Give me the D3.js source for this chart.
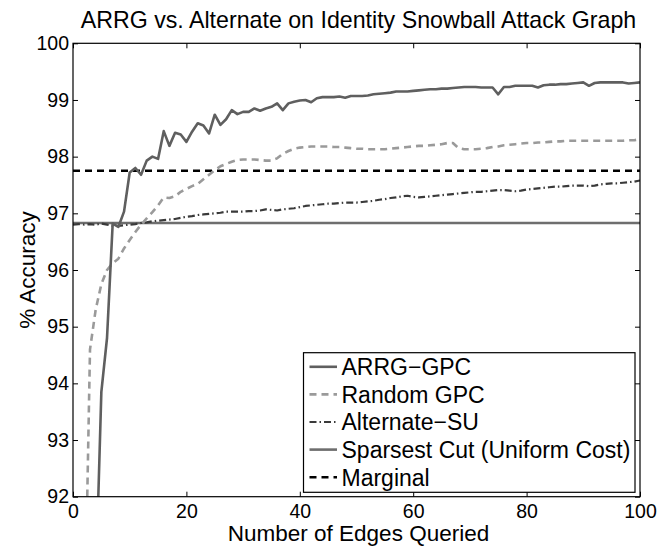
<!DOCTYPE html>
<html>
<head>
<meta charset="utf-8">
<script src="https://cdn.jsdelivr.net/npm/d3@7"></script>
<style>
  html, body { margin: 0; padding: 0; background: #fff; }
  svg { display: block; font-family: "Liberation Sans", Arial, Helvetica, sans-serif; }
</style>
</head>
<body>
<svg id="chart" width="667" height="546"></svg>
<script>
// ---------- data ----------
const chartTitle = "ARRG vs. Alternate on Identity Snowball Attack Graph";
const xLabel = "Number of Edges Queried";
const yLabel = "% Accuracy";
const xTicks = [0, 20, 40, 60, 80, 100];
const yTicks = [92, 93, 94, 95, 96, 97, 98, 99, 100];
const seriesNames = ["ARRG\u2212GPC", "Random GPC", "Alternate\u2212SU", "Sparsest Cut (Uniform Cost)", "Marginal"];

// ARRG-GPC, edges queried 4..100
const arrgStart = 4;
const arrgValues = [
  90.4, 93.85, 94.8, 96.82, 96.76, 97.03, 97.72, 97.80, 97.68, 97.93,
  98.00, 97.96, 98.45, 98.19, 98.42, 98.39, 98.26, 98.44, 98.59, 98.55,
  98.41, 98.74, 98.56, 98.66, 98.82, 98.75, 98.79, 98.79, 98.85, 98.81,
  98.85, 98.88, 98.94, 98.82, 98.94, 98.97, 98.99, 99.00, 98.96, 99.03,
  99.05, 99.05, 99.05, 99.06, 99.04, 99.07, 99.07, 99.07, 99.08, 99.10,
  99.11, 99.12, 99.13, 99.15, 99.15, 99.15, 99.16, 99.17, 99.18, 99.19,
  99.19, 99.20, 99.20, 99.21, 99.22, 99.23, 99.23, 99.23, 99.22, 99.22,
  99.22, 99.10, 99.23, 99.23, 99.25, 99.25, 99.25, 99.25, 99.22, 99.26,
  99.27, 99.27, 99.28, 99.28, 99.29, 99.30, 99.31, 99.25, 99.30, 99.31,
  99.31, 99.31, 99.31, 99.31, 99.29, 99.30, 99.31
];

// Random GPC, edges queried 2..100
const randomStart = 2;
const randomValues = [
  89.25, 94.6, 95.3, 95.75, 96.0, 96.12, 96.2, 96.38, 96.53, 96.67,
  96.8, 96.91, 97.02, 97.14, 97.28, 97.27, 97.3, 97.38, 97.43, 97.48,
  97.52, 97.6, 97.68, 97.76, 97.83, 97.87, 97.91, 97.94, 97.95, 97.95,
  97.95, 97.94, 97.93, 97.93, 97.97, 98.05, 98.1, 98.14, 98.16, 98.17,
  98.18, 98.18, 98.18, 98.18, 98.17, 98.17, 98.16, 98.15, 98.14, 98.14,
  98.13, 98.13, 98.13, 98.13, 98.14, 98.15, 98.16, 98.17, 98.18, 98.19,
  98.19, 98.2, 98.21, 98.22, 98.24, 98.24, 98.15, 98.13, 98.13, 98.13,
  98.14, 98.15, 98.17, 98.18, 98.2, 98.21, 98.22, 98.23, 98.24, 98.24,
  98.25, 98.25, 98.26, 98.27, 98.27, 98.28, 98.28, 98.28, 98.28, 98.28,
  98.28, 98.28, 98.28, 98.28, 98.28, 98.28, 98.29, 98.29, 98.31
];

// Alternate-SU, edges queried 0..100
const altStart = 0;
const altValues = [
  96.8, 96.81, 96.8, 96.81, 96.8, 96.82, 96.8, 96.78, 96.78, 96.79,
  96.8, 96.81, 96.83, 96.84, 96.86, 96.87, 96.88, 96.89, 96.9, 96.92,
  96.94, 96.95, 96.97, 96.98, 96.99, 97.0, 97.01, 97.03, 97.03, 97.03,
  97.03, 97.04, 97.04, 97.05, 97.07, 97.06, 97.05, 97.07, 97.08, 97.09,
  97.11, 97.13, 97.14, 97.15, 97.16, 97.17, 97.17, 97.18, 97.19, 97.19,
  97.19, 97.2, 97.21, 97.22, 97.24, 97.25, 97.27, 97.28, 97.3, 97.31,
  97.29, 97.28, 97.29, 97.3, 97.31, 97.32, 97.33, 97.34, 97.35, 97.36,
  97.37, 97.38, 97.38, 97.39, 97.4, 97.41, 97.41, 97.4, 97.39, 97.4,
  97.42, 97.43, 97.44, 97.45, 97.46, 97.47, 97.47, 97.48, 97.49, 97.49,
  97.49, 97.48, 97.49, 97.51, 97.52, 97.53, 97.53, 97.54, 97.55, 97.56,
  97.58
];

// constant baselines
const sparsestX = [0, 100];
const sparsestValues = [96.83, 96.83];
const marginalX = [0, 100];
const marginalValues = [97.75, 97.75];

// ---------- layout ----------
const svg = d3.select("#chart");
const L = 73, R = 640, T = 43.3, B = 496.7;
const x = d3.scaleLinear().domain([0, 100]).range([L, R]);
const y = d3.scaleLinear().domain([92, 100]).range([B, T]);

const toPts = (start, vals) => vals.map((v, i) => [start + i, v]);
const zipPts = (xs, vals) => vals.map((v, i) => [xs[i], v]);

const series = [
  { name: seriesNames[0], pts: toPts(arrgStart, arrgValues), color: "#5f5f5f", width: 2.6, dash: null },
  { name: seriesNames[1], pts: toPts(randomStart, randomValues), color: "#9a9a9a", width: 2.6, dash: "7,5" },
  { name: seriesNames[2], pts: toPts(altStart, altValues), color: "#3a3a3a", width: 2.2, dash: "7,3,1.5,3" },
  { name: seriesNames[3], pts: zipPts(sparsestX, sparsestValues), color: "#6e6e6e", width: 2.6, dash: null },
  { name: seriesNames[4], pts: zipPts(marginalX, marginalValues), color: "#000000", width: 2.6, dash: "7,5" }
];

svg.append("defs").append("clipPath").attr("id", "plotclip")
  .append("rect").attr("x", L).attr("y", T).attr("width", R - L).attr("height", B - T);

// axes with inward ticks
const tickLen = 5;
const fontTick = 19.5;
const xAxisB = d3.axisBottom(x).tickValues(xTicks).tickSizeInner(-tickLen).tickSizeOuter(0).tickPadding(7);
const xAxisT = d3.axisTop(x).tickValues(xTicks).tickSizeInner(-tickLen).tickSizeOuter(0).tickFormat("");
const yAxisL = d3.axisLeft(y).tickValues(yTicks).tickSizeInner(-tickLen).tickSizeOuter(0).tickPadding(4);
const yAxisR = d3.axisRight(y).tickValues(yTicks).tickSizeInner(-tickLen).tickSizeOuter(0).tickFormat("");

function styleAxis(g) {
  g.select(".domain").remove();
  g.selectAll("line").attr("stroke", "#000").attr("stroke-width", 1);
  g.selectAll("text").attr("fill", "#000").attr("font-size", fontTick)
    .attr("font-family", "'Liberation Sans', Arial, sans-serif");
}

svg.append("g").attr("transform", `translate(0,${B})`).call(xAxisB).call(styleAxis);
svg.append("g").attr("transform", `translate(0,${T})`).call(xAxisT).call(styleAxis);
svg.append("g").attr("transform", `translate(${L},0)`).call(yAxisL).call(styleAxis);
svg.append("g").attr("transform", `translate(${R},0)`).call(yAxisR).call(styleAxis);

// lines
const line = d3.line().x(d => x(d[0])).y(d => y(d[1]));
const plot = svg.append("g").attr("clip-path", "url(#plotclip)");
[3, 4, 2, 1, 0].forEach(i => {
  const s = series[i];
  plot.append("path").datum(s.pts)
    .attr("d", line)
    .attr("fill", "none")
    .attr("stroke", s.color)
    .attr("stroke-width", s.width)
    .attr("stroke-dasharray", s.dash)
    .attr("stroke-linejoin", "round");
});

// box
svg.append("rect").attr("x", L).attr("y", T).attr("width", R - L).attr("height", B - T)
  .attr("fill", "none").attr("stroke", "#000").attr("stroke-width", 1.2);

// title & labels
svg.append("text").attr("x", (L + R) / 2 + 2).attr("y", 27.5)
  .attr("text-anchor", "middle").attr("font-size", 23.2).attr("fill", "#000").text(chartTitle);
svg.append("text").attr("x", (L + R) / 2 + 2).attr("y", 541)
  .attr("text-anchor", "middle").attr("font-size", 22.5).attr("fill", "#000").text(xLabel);
svg.append("text").attr("transform", `translate(35,${(T + B) / 2}) rotate(-90)`)
  .attr("text-anchor", "middle").attr("font-size", 22.5).attr("fill", "#000").text(yLabel);

// legend
const lg = svg.append("g");
const lgX = 303.5, lgY = 352.7, lgW = 331.5, lgH = 139.6;
lg.append("rect").attr("x", lgX).attr("y", lgY).attr("width", lgW).attr("height", lgH)
  .attr("fill", "#fff").attr("stroke", "#000").attr("stroke-width", 1.2);
series.forEach((s, i) => {
  const cy = 366.8 + i * 27.6;
  lg.append("line").attr("x1", 309.5).attr("x2", 337).attr("y1", cy).attr("y2", cy)
    .attr("stroke", s.color).attr("stroke-width", s.width)
    .attr("stroke-dasharray", s.dash);
  lg.append("text").attr("x", 341.5).attr("y", cy + 8.3)
    .attr("font-size", 23).attr("fill", "#000").text(s.name);
});
</script>
</body>
</html>
